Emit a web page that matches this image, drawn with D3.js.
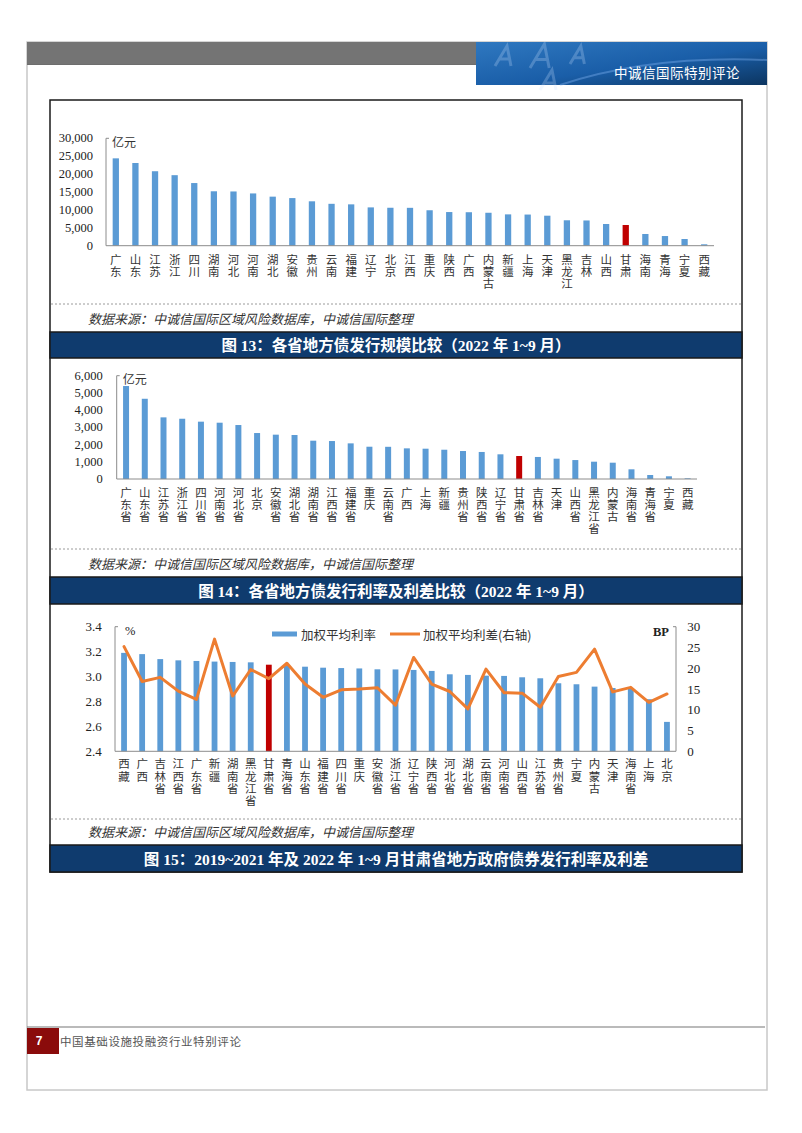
<!DOCTYPE html>
<html><head><meta charset="utf-8">
<script src="https://cdn.jsdelivr.net/npm/d3@7/dist/d3.min.js"></script>
<style>html,body{margin:0;padding:0;background:#fff;}svg{display:block;}</style>
</head><body>
<script>
// ---------- DATA ----------
const prov1 = ["广东","山东","江苏","浙江","四川","湖南","河北","河南","湖北","安徽","贵州","云南","福建","辽宁","北京","江西","重庆","陕西","广西","内蒙古","新疆","上海","天津","黑龙江","吉林","山西","甘肃","海南","青海","宁夏","西藏"];
const val1 = [24400,23100,20800,19700,17500,15200,15150,14600,13700,13300,12400,11700,11550,10700,10600,10580,9900,9400,9350,9200,8750,8700,8380,7100,7050,6060,5780,3270,2700,1870,390];
const ticks1 = [0,5000,10000,15000,20000,25000,30000];

const prov2 = ["广东省","山东省","江苏省","浙江省","四川省","河南省","河北省","北京","安徽省","湖北省","湖南省","江西省","福建省","重庆","云南省","广西","上海","新疆","贵州省","陕西省","辽宁省","甘肃省","吉林省","天津","山西省","黑龙江省","内蒙古","海南省","青海省","宁夏","西藏"];
const val2 = [5400,4660,3580,3500,3330,3270,3135,2670,2575,2555,2225,2205,2070,1875,1870,1780,1760,1700,1625,1570,1434,1335,1280,1180,1100,1005,947,563,232,157,40];
const ticks2 = [0,1000,2000,3000,4000,5000,6000];

const prov3 = ["西藏","广西","吉林省","江西省","广东省","新疆","湖南省","黑龙江省","甘肃省","青海省","山东省","福建省","四川省","重庆","安徽省","浙江省","辽宁省","陕西省","河北省","湖北省","云南省","河南省","山西省","江苏省","贵州省","宁夏","内蒙古","天津","海南省","上海","北京"];
const rate3 = [3.19,3.18,3.14,3.13,3.125,3.12,3.117,3.114,3.095,3.09,3.079,3.071,3.068,3.065,3.058,3.057,3.053,3.045,3.018,3.013,3.007,3.005,2.994,2.986,2.946,2.938,2.919,2.908,2.903,2.818,2.636];
const spread3 = [25.2,16.8,17.8,14.5,12.5,27.0,13.3,19.7,17.5,21.2,16.2,13.0,14.8,15.0,15.3,11.1,22.6,16.2,14.4,10.2,19.8,14.1,14.0,10.6,18.0,19.0,24.6,14.3,15.4,11.8,13.8];
const ticks3L = [2.4,2.6,2.8,3.0,3.2,3.4];
const ticks3R = [0,5,10,15,20,25,30];

const highlight1 = "甘肃", highlight2 = "甘肃省";
const sourceText = "数据来源：中诚信国际区域风险数据库，中诚信国际整理";
const captions = ["图 13：各省地方债发行规模比较（2022 年 1~9 月）",
                  "图 14：各省地方债发行利率及利差比较（2022 年 1~9 月）",
                  "图 15：2019~2021 年及 2022 年 1~9 月甘肃省地方政府债券发行利率及利差"];
const legendNames = ["加权平均利率","加权平均利差(右轴)"];

// ---------- STYLE ----------
const BLUE = "#5B9BD5", RED = "#C00000", ORANGE = "#ED7D31", AXIS = "#8c8c8c";
const CJK = "'Noto Sans CJK SC', sans-serif";
const SERIF = "'Liberation Serif', 'Noto Sans CJK SC', serif";

const W = 802, H = 1133;
const svg = d3.select("body").append("svg").attr("width", W).attr("height", H)
  .style("background", "#fff");

// ---------- PAGE FRAME / HEADER ----------
svg.append("rect").attr("x", 27).attr("y", 42).attr("width", 740).attr("height", 1048)
  .attr("fill", "none").attr("stroke", "#c8c8c8").attr("stroke-width", 1.5);

svg.append("rect").attr("x", 27).attr("y", 42).attr("width", 450).attr("height", 23).attr("fill", "#6d6d6d");
svg.append("g").selectAll("line").data(d3.range(43, 65, 2)).join("line")
  .attr("x1", 27).attr("x2", 477).attr("y1", d => d).attr("y2", d => d)
  .attr("stroke", "#828282").attr("stroke-width", 0.7);

const defs = svg.append("defs");
const lg = defs.append("linearGradient").attr("id", "hdr").attr("x1", "0").attr("x2", "1").attr("y1", "0").attr("y2", "1");
lg.append("stop").attr("offset", "0").attr("stop-color", "#2f78c0");
lg.append("stop").attr("offset", "0.55").attr("stop-color", "#1a5ea8");
lg.append("stop").attr("offset", "1").attr("stop-color", "#0c3560");
svg.append("rect").attr("x", 476).attr("y", 42).attr("width", 291).attr("height", 43).attr("fill", "url(#hdr)");
// decorative "A" shapes (drawn as paths, not text)
const deco = svg.append("g").attr("fill", "none").attr("stroke", "#cfe3ff").attr("stroke-opacity", 0.25).attr("stroke-width", 3);
[[495, 66, 20], [530, 68, 24], [570, 64, 18], [540, 90, 20]].forEach(([x, y, s]) =>
  deco.append("path").attr("d", `M${x},${y} L${x + s * 0.6},${y - s} L${x + s * 0.8},${y} M${x + s * 0.25},${y - s * 0.35} L${x + s * 0.7},${y - s * 0.35}`));
svg.append("path").attr("d", "M560,85 Q650,55 767,60").attr("fill", "none").attr("stroke", "#8fc0ff").attr("stroke-opacity", 0.35).attr("stroke-width", 2);
svg.append("text").attr("x", 740).attr("y", 72).attr("text-anchor", "end").attr("dominant-baseline", "central")
  .attr("font-family", CJK).attr("font-size", 13.5).attr("fill", "#fff").attr("letter-spacing", 0.5).text("中诚信国际特别评论");

// ---------- CONTENT BOX ----------
svg.append("rect").attr("x", 50).attr("y", 100).attr("width", 692).attr("height", 772)
  .attr("fill", "none").attr("stroke", "#1a1a1a").attr("stroke-width", 1.5);

[304, 549, 819].forEach(y => svg.append("line").attr("x1", 51).attr("x2", 741).attr("y1", y).attr("y2", y)
  .attr("stroke", "#9a9a9a").attr("stroke-dasharray", "2,2"));
[318, 563, 831].forEach(y => svg.append("text").attr("x", 88).attr("y", y).attr("dominant-baseline", "central")
  .attr("font-family", CJK).attr("font-style", "italic").attr("font-size", 13).attr("fill", "#333").text(sourceText));

[[332, 26], [577, 27], [845, 27]].forEach(([y, h], i) => {
  svg.append("rect").attr("x", 50).attr("y", y).attr("width", 692).attr("height", h)
    .attr("fill", "#0f3b6e").attr("stroke", "#1a1a1a").attr("stroke-width", 1.5);
  svg.append("text").attr("x", 396).attr("y", y + h / 2 + 0.5).attr("text-anchor", "middle").attr("dominant-baseline", "central")
    .attr("font-family", SERIF).attr("font-weight", "bold").attr("font-size", 15.5).attr("fill", "#fff").text(captions[i]);
});

// ---------- helpers ----------
function vertLabels(g, names, x, y0, lh, fs) {
  g.selectAll(null).data(names).join("text")
    .attr("x", n => x(n) + x.bandwidth() / 2).attr("y", y0 - lh / 2)
    .style("writing-mode", "vertical-rl").style("text-orientation", "upright")
    .attr("letter-spacing", lh - fs)
    .attr("font-family", CJK).attr("font-size", fs).attr("fill", "#333")
    .text(n => n);
}

function barChart(cfg) {
  const g = svg.append("g");
  const x = d3.scaleBand().domain(cfg.names).range(cfg.xr).paddingInner(0.68).paddingOuter(0.34);
  const y = d3.scaleLinear().domain(cfg.yd).range(cfg.yr);
  g.selectAll("rect.bar").data(cfg.names).join("rect").attr("class", "bar")
    .attr("x", d => x(d)).attr("width", x.bandwidth())
    .attr("y", (d, i) => y(cfg.vals[i])).attr("height", (d, i) => y(0) - y(cfg.vals[i]))
    .attr("fill", d => d === cfg.hl ? RED : BLUE);
  g.append("line").attr("x1", cfg.xr[0]).attr("x2", cfg.xr[0]).attr("y1", y(cfg.yd[1])).attr("y2", y(0)).attr("stroke", AXIS);
  g.append("line").attr("x1", cfg.xr[0]).attr("x2", cfg.xr[0] + 3).attr("y1", y(cfg.yd[1])).attr("y2", y(cfg.yd[1])).attr("stroke", AXIS);
  g.append("line").attr("x1", cfg.xr[0]).attr("x2", cfg.xr[1]).attr("y1", y(0)).attr("y2", y(0)).attr("stroke", AXIS);
  const fmt = d3.format(",");
  g.selectAll("text.tick").data(cfg.ticks).join("text").attr("class", "tick")
    .attr("x", cfg.tickX).attr("y", d => y(d)).attr("text-anchor", "end").attr("dominant-baseline", "central")
    .attr("font-family", SERIF).attr("font-size", 12.5).attr("fill", "#222").text(d => fmt(d));
  g.append("text").attr("x", cfg.xr[0] + 6).attr("y", y(cfg.yd[1]) + 3).attr("dominant-baseline", "central")
    .attr("font-family", CJK).attr("font-size", 12).attr("fill", "#333").text("亿元");
  vertLabels(g, cfg.names, x, cfg.labY, cfg.lh, 11.5);
}

barChart({names: prov1, vals: val1, hl: highlight1, xr: [106, 714], yd: [0, 30000], yr: [245.7, 138.3],
  ticks: ticks1, tickX: 93, labY: 260, lh: 11.8});
barChart({names: prov2, vals: val2, hl: highlight2, xr: [116.7, 697], yd: [0, 6000], yr: [479, 375.7],
  ticks: ticks2, tickX: 102.7, labY: 493.3, lh: 11.9});

// ---------- CHART 3 ----------
(function () {
  const g = svg.append("g");
  const x = d3.scaleBand().domain(prov3).range([115, 676]).paddingInner(0.68).paddingOuter(0.34);
  const yL = d3.scaleLinear().domain([2.4, 3.4]).range([751.3, 626.7]);
  const yR = d3.scaleLinear().domain([0, 30]).range([751.3, 626.7]);
  g.selectAll("rect.bar").data(prov3).join("rect").attr("class", "bar")
    .attr("x", d => x(d)).attr("width", x.bandwidth())
    .attr("y", (d, i) => yL(rate3[i])).attr("height", (d, i) => yL(2.4) - yL(rate3[i]))
    .attr("fill", d => d === highlight2 ? RED : BLUE);
  g.append("line").attr("x1", 115).attr("x2", 115).attr("y1", 626.7).attr("y2", 751.3).attr("stroke", AXIS);
  g.append("line").attr("x1", 115).attr("x2", 118).attr("y1", 626.7).attr("y2", 626.7).attr("stroke", AXIS);
  g.append("line").attr("x1", 676).attr("x2", 676).attr("y1", 626.7).attr("y2", 751.3).attr("stroke", AXIS);
  g.append("line").attr("x1", 673).attr("x2", 676).attr("y1", 626.7).attr("y2", 626.7).attr("stroke", AXIS);
  g.append("line").attr("x1", 115).attr("x2", 676).attr("y1", 751.3).attr("y2", 751.3).attr("stroke", AXIS);
  g.selectAll("text.tl").data(ticks3L).join("text").attr("class", "tl")
    .attr("x", 101.7).attr("y", d => yL(d)).attr("text-anchor", "end").attr("dominant-baseline", "central")
    .attr("font-family", SERIF).attr("font-size", 13).attr("fill", "#222").text(d => d3.format(".1f")(d));
  g.selectAll("text.tr").data(ticks3R).join("text").attr("class", "tr")
    .attr("x", 687.3).attr("y", d => yR(d)).attr("text-anchor", "start").attr("dominant-baseline", "central")
    .attr("font-family", SERIF).attr("font-size", 13).attr("fill", "#222").text(d => d);
  const line = d3.line().x((d, i) => x(prov3[i]) + x.bandwidth() / 2).y(d => yR(d));
  g.append("path").datum(spread3).attr("d", line).attr("fill", "none").attr("stroke", ORANGE)
    .attr("stroke-width", 3).attr("stroke-linejoin", "round").attr("stroke-linecap", "round");
  g.append("text").attr("x", 125).attr("y", 631).attr("dominant-baseline", "central")
    .attr("font-family", SERIF).attr("font-size", 12.5).attr("fill", "#222").text("%");
  g.append("text").attr("x", 661).attr("y", 632).attr("text-anchor", "middle").attr("dominant-baseline", "central")
    .attr("font-family", SERIF).attr("font-weight", "bold").attr("font-size", 12.5).attr("fill", "#222").text("BP");
  g.append("rect").attr("x", 272).attr("y", 631.5).attr("width", 25).attr("height", 5).attr("fill", BLUE);
  g.append("text").attr("x", 301).attr("y", 634).attr("dominant-baseline", "central")
    .attr("font-family", CJK).attr("font-size", 12.5).attr("fill", "#333").text(legendNames[0]);
  g.append("line").attr("x1", 390).attr("x2", 420).attr("y1", 634).attr("y2", 634).attr("stroke", ORANGE).attr("stroke-width", 3);
  g.append("text").attr("x", 423).attr("y", 634).attr("dominant-baseline", "central")
    .attr("font-family", CJK).attr("font-size", 12.5).attr("fill", "#333").text(legendNames[1]);
  vertLabels(g, prov3, x, 764.3, 12.4, 11.5);
})();

// ---------- FOOTER ----------
svg.append("line").attr("x1", 27).attr("x2", 765).attr("y1", 1027).attr("y2", 1027).attr("stroke", "#777").attr("stroke-width", 1.2);
svg.append("rect").attr("x", 27).attr("y", 1028).attr("width", 32).attr("height", 26).attr("fill", "#8a0b0b");
svg.append("text").attr("x", 39).attr("y", 1041).attr("text-anchor", "middle").attr("dominant-baseline", "central")
  .attr("font-family", "'Liberation Sans', sans-serif").attr("font-weight", "bold").attr("font-size", 12).attr("fill", "#fff").text("7");
svg.append("text").attr("x", 60).attr("y", 1041).attr("dominant-baseline", "central")
  .attr("font-family", CJK).attr("font-size", 11.5).attr("fill", "#555").attr("letter-spacing", 0.6).text("中国基础设施投融资行业特别评论");
</script>
</body></html>
